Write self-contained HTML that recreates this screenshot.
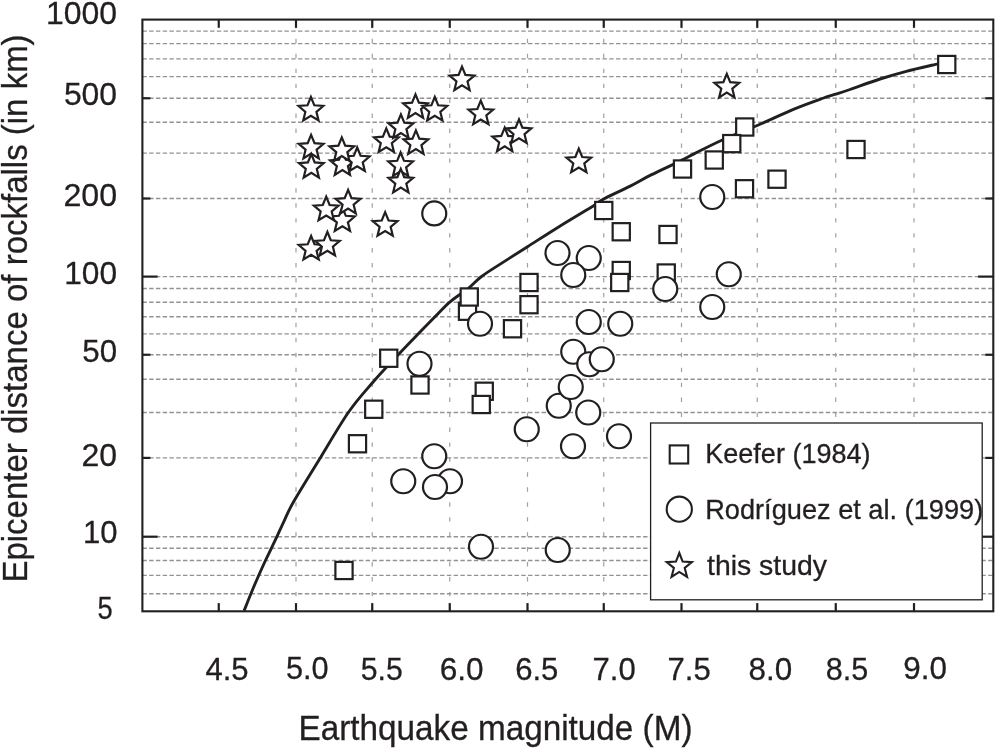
<!DOCTYPE html>
<html><head><meta charset="utf-8"><title>Rockfall distance vs magnitude</title>
<style>html,body{margin:0;padding:0;background:#fff}svg{display:block}</style></head>
<body>
<svg width="995" height="748" viewBox="0 0 995 748">
<rect width="995" height="748" fill="#fff"/>
<g stroke="#929292" stroke-width="1.4" stroke-dasharray="4.4 2.366" fill="none">
<line x1="142.4" y1="31.1" x2="993.3" y2="31.1"/>
<line x1="142.4" y1="43.6" x2="993.3" y2="43.6"/>
<line x1="142.4" y1="58.9" x2="993.3" y2="58.9"/>
<line x1="142.4" y1="76.6" x2="993.3" y2="76.6"/>
<line x1="142.4" y1="98.25" x2="993.3" y2="98.25"/>
<line x1="142.4" y1="122.25" x2="993.3" y2="122.25"/>
<line x1="142.4" y1="153.1" x2="993.3" y2="153.1"/>
<line x1="142.4" y1="198.5" x2="993.3" y2="198.5"/>
<line x1="142.4" y1="276.6" x2="993.3" y2="276.6"/>
<line x1="142.4" y1="288.5" x2="993.3" y2="288.5"/>
<line x1="142.4" y1="302.2" x2="993.3" y2="302.2"/>
<line x1="142.4" y1="316.7" x2="993.3" y2="316.7"/>
<line x1="142.4" y1="333.9" x2="993.3" y2="333.9"/>
<line x1="142.4" y1="354.75" x2="993.3" y2="354.75"/>
<line x1="142.4" y1="379.2" x2="993.3" y2="379.2"/>
<line x1="142.4" y1="412.5" x2="993.3" y2="412.5"/>
<line x1="142.4" y1="457.9" x2="993.3" y2="457.9"/>
<line x1="142.4" y1="536.7" x2="993.3" y2="536.7"/>
<line x1="142.4" y1="548.3" x2="993.3" y2="548.3"/>
<line x1="142.4" y1="560.5" x2="993.3" y2="560.5"/>
<line x1="142.4" y1="575.4" x2="993.3" y2="575.4"/>
<line x1="142.4" y1="593.7" x2="993.3" y2="593.7"/>
</g>
<g stroke="#a0a0a0" stroke-width="1.2" stroke-dasharray="4.4 10.55" fill="none">
<line x1="296" y1="611.3" x2="296" y2="19.6"/>
<line x1="372.25" y1="611.3" x2="372.25" y2="19.6"/>
<line x1="449.75" y1="611.3" x2="449.75" y2="19.6"/>
<line x1="527.5" y1="611.3" x2="527.5" y2="19.6"/>
<line x1="603.75" y1="611.3" x2="603.75" y2="19.6"/>
<line x1="681.5" y1="611.3" x2="681.5" y2="19.6"/>
<line x1="757.25" y1="611.3" x2="757.25" y2="19.6"/>
<line x1="835.75" y1="611.3" x2="835.75" y2="19.6"/>
<line x1="914.0" y1="611.3" x2="914.0" y2="19.6"/>
</g>
<g stroke="#231f20" stroke-width="2.2" fill="none">
<line x1="218.75" y1="19.6" x2="218.75" y2="27.8"/>
<line x1="218.75" y1="611.3" x2="218.75" y2="603.0999999999999"/>
<line x1="296" y1="19.6" x2="296" y2="27.8"/>
<line x1="296" y1="611.3" x2="296" y2="603.0999999999999"/>
<line x1="372.25" y1="19.6" x2="372.25" y2="27.8"/>
<line x1="372.25" y1="611.3" x2="372.25" y2="603.0999999999999"/>
<line x1="449.75" y1="19.6" x2="449.75" y2="27.8"/>
<line x1="449.75" y1="611.3" x2="449.75" y2="603.0999999999999"/>
<line x1="527.5" y1="19.6" x2="527.5" y2="27.8"/>
<line x1="527.5" y1="611.3" x2="527.5" y2="603.0999999999999"/>
<line x1="603.75" y1="19.6" x2="603.75" y2="27.8"/>
<line x1="603.75" y1="611.3" x2="603.75" y2="603.0999999999999"/>
<line x1="681.5" y1="19.6" x2="681.5" y2="27.8"/>
<line x1="681.5" y1="611.3" x2="681.5" y2="603.0999999999999"/>
<line x1="757.25" y1="19.6" x2="757.25" y2="27.8"/>
<line x1="757.25" y1="611.3" x2="757.25" y2="603.0999999999999"/>
<line x1="835.75" y1="19.6" x2="835.75" y2="27.8"/>
<line x1="835.75" y1="611.3" x2="835.75" y2="603.0999999999999"/>
<line x1="914.0" y1="19.6" x2="914.0" y2="27.8"/>
<line x1="914.0" y1="611.3" x2="914.0" y2="603.0999999999999"/>
<line x1="142.4" y1="98.25" x2="150.4" y2="98.25"/>
<line x1="993.3" y1="98.25" x2="985.3" y2="98.25"/>
<line x1="142.4" y1="198.5" x2="150.4" y2="198.5"/>
<line x1="993.3" y1="198.5" x2="985.3" y2="198.5"/>
<line x1="142.4" y1="276.6" x2="157.6" y2="276.6"/>
<line x1="993.3" y1="276.6" x2="978.0999999999999" y2="276.6"/>
<line x1="142.4" y1="354.75" x2="150.4" y2="354.75"/>
<line x1="993.3" y1="354.75" x2="985.3" y2="354.75"/>
<line x1="142.4" y1="457.9" x2="150.4" y2="457.9"/>
<line x1="993.3" y1="457.9" x2="985.3" y2="457.9"/>
<line x1="142.4" y1="536.7" x2="157.6" y2="536.7"/>
<line x1="993.3" y1="536.7" x2="978.0999999999999" y2="536.7"/>
</g>
<path d="M244.10 610.80 C245.23 607.95 248.43 599.67 250.90 593.70 C253.37 587.73 256.43 580.62 258.90 575.00 C261.37 569.38 263.60 564.50 265.70 560.00 C267.80 555.50 269.63 551.88 271.50 548.00 C273.37 544.12 274.77 541.28 276.90 536.70 C279.03 532.12 281.52 526.32 284.30 520.50 C287.08 514.68 287.82 511.88 293.60 501.80 C299.38 491.72 309.88 474.88 319.00 460.00 C328.12 445.12 339.43 425.33 348.30 412.50 C357.18 399.67 363.93 392.63 372.25 383.00 C380.57 373.37 390.52 362.90 398.20 354.70 C405.88 346.50 412.13 340.15 418.30 333.80 C424.47 327.45 429.96 321.88 435.20 316.60 C440.44 311.32 444.22 306.82 449.75 302.10 C455.28 297.38 463.16 292.53 468.40 288.30 C473.64 284.07 475.90 280.78 481.20 276.75 C486.50 272.72 492.48 269.11 500.20 264.10 C507.92 259.09 517.50 253.07 527.50 246.70 C537.50 240.33 549.05 232.82 560.20 225.90 C571.35 218.98 587.14 209.68 594.40 205.20 C601.66 200.72 597.78 202.18 603.75 199.00 C609.72 195.82 622.31 190.12 630.20 186.10 C638.09 182.08 642.55 179.18 651.10 174.90 C659.65 170.62 674.27 163.95 681.50 160.40 C688.73 156.85 687.78 156.97 694.50 153.60 C701.22 150.23 711.34 144.88 721.80 140.20 C732.26 135.52 745.22 130.68 757.25 125.50 C769.28 120.32 783.06 113.64 794.00 109.10 C804.94 104.56 815.94 100.73 822.90 98.25 C829.86 95.77 831.23 95.66 835.75 94.20 C840.27 92.74 842.62 92.03 850.00 89.50 C857.38 86.97 870.62 82.03 880.00 79.00 C889.38 75.97 896.65 73.83 906.30 71.30 C915.95 68.77 932.63 65.05 937.90 63.80" fill="none" stroke="#231f20" stroke-width="2.9" stroke-linecap="butt" stroke-linejoin="round"/>
<g fill="#fff" stroke="#231f20" stroke-width="2.2">
<rect x="938.15" y="55.90" width="17.2" height="17.2"/>
<rect x="847.40" y="140.90" width="17.2" height="17.2"/>
<rect x="736.15" y="118.40" width="17.2" height="17.2"/>
<rect x="768.40" y="170.60" width="17.2" height="17.2"/>
<rect x="673.90" y="160.40" width="17.2" height="17.2"/>
<rect x="705.65" y="151.40" width="17.2" height="17.2"/>
<rect x="723.15" y="135.00" width="17.2" height="17.2"/>
<rect x="735.90" y="180.15" width="17.2" height="17.2"/>
<rect x="595.15" y="201.90" width="17.2" height="17.2"/>
<rect x="612.65" y="223.15" width="17.2" height="17.2"/>
<rect x="659.40" y="225.90" width="17.2" height="17.2"/>
<rect x="612.65" y="261.90" width="17.2" height="17.2"/>
<rect x="611.15" y="273.90" width="17.2" height="17.2"/>
<rect x="657.65" y="264.40" width="17.2" height="17.2"/>
<rect x="520.40" y="273.90" width="17.2" height="17.2"/>
<rect x="520.40" y="296.10" width="17.2" height="17.2"/>
<rect x="503.90" y="320.15" width="17.2" height="17.2"/>
<rect x="458.90" y="302.65" width="17.2" height="17.2"/>
<rect x="460.65" y="288.40" width="17.2" height="17.2"/>
<rect x="380.15" y="349.65" width="17.2" height="17.2"/>
<rect x="411.40" y="376.40" width="17.2" height="17.2"/>
<rect x="365.15" y="400.65" width="17.2" height="17.2"/>
<rect x="348.90" y="435.15" width="17.2" height="17.2"/>
<rect x="475.65" y="382.65" width="17.2" height="17.2"/>
<rect x="472.65" y="395.90" width="17.2" height="17.2"/>
<rect x="335.40" y="561.90" width="17.2" height="17.2"/>
<circle cx="434.25" cy="213.4" r="12"/>
<circle cx="712.25" cy="197" r="12"/>
<circle cx="557.5" cy="253" r="12"/>
<circle cx="588.75" cy="258" r="12"/>
<circle cx="573.25" cy="275" r="12"/>
<circle cx="728.75" cy="274.25" r="12"/>
<circle cx="665.25" cy="289" r="12"/>
<circle cx="712.25" cy="307" r="12"/>
<circle cx="588.75" cy="322" r="12"/>
<circle cx="620.25" cy="323.75" r="12"/>
<circle cx="573.25" cy="351.75" r="12"/>
<circle cx="589.25" cy="364.25" r="12"/>
<circle cx="601.75" cy="359.25" r="12"/>
<circle cx="558.75" cy="405.75" r="12"/>
<circle cx="570.75" cy="387" r="12"/>
<circle cx="588.25" cy="412.5" r="12"/>
<circle cx="526.75" cy="429.25" r="12"/>
<circle cx="619" cy="436.25" r="12"/>
<circle cx="573" cy="446.25" r="12"/>
<circle cx="480" cy="323.75" r="12"/>
<circle cx="419.5" cy="363.75" r="12"/>
<circle cx="434.25" cy="456.25" r="12"/>
<circle cx="403.25" cy="481.25" r="12"/>
<circle cx="450" cy="481.25" r="12"/>
<circle cx="435" cy="487" r="12"/>
<circle cx="481" cy="546.75" r="12"/>
<circle cx="557.75" cy="550" r="12"/>
</g>
<g fill="#fff" stroke="#231f20" stroke-width="2.2" stroke-linejoin="miter">
<path d="M310.90 97.00 L314.31 105.31 L323.26 105.98 L316.42 111.79 L318.54 120.52 L310.90 115.80 L303.26 120.52 L305.38 111.79 L298.54 105.98 L307.49 105.31Z"/>
<path d="M311.10 134.80 L314.51 143.11 L323.46 143.78 L316.62 149.59 L318.74 158.32 L311.10 153.60 L303.46 158.32 L305.58 149.59 L298.74 143.78 L307.69 143.11Z"/>
<path d="M311.30 154.10 L314.71 162.41 L323.66 163.08 L316.82 168.89 L318.94 177.62 L311.30 172.90 L303.66 177.62 L305.78 168.89 L298.94 163.08 L307.89 162.41Z"/>
<path d="M342.40 151.30 L345.81 159.61 L354.76 160.28 L347.92 166.09 L350.04 174.82 L342.40 170.10 L334.76 174.82 L336.88 166.09 L330.04 160.28 L338.99 159.61Z"/>
<path d="M357.20 147.50 L360.61 155.81 L369.56 156.48 L362.72 162.29 L364.84 171.02 L357.20 166.30 L349.56 171.02 L351.68 162.29 L344.84 156.48 L353.79 155.81Z"/>
<path d="M341.80 137.30 L345.21 145.61 L354.16 146.28 L347.32 152.09 L349.44 160.82 L341.80 156.10 L334.16 160.82 L336.28 152.09 L329.44 146.28 L338.39 145.61Z"/>
<path d="M386.30 128.40 L389.71 136.71 L398.66 137.38 L391.82 143.19 L393.94 151.92 L386.30 147.20 L378.66 151.92 L380.78 143.19 L373.94 137.38 L382.89 136.71Z"/>
<path d="M400.90 114.30 L404.31 122.61 L413.26 123.28 L406.42 129.09 L408.54 137.82 L400.90 133.10 L393.26 137.82 L395.38 129.09 L388.54 123.28 L397.49 122.61Z"/>
<path d="M415.90 130.30 L419.31 138.61 L428.26 139.28 L421.42 145.09 L423.54 153.82 L415.90 149.10 L408.26 153.82 L410.38 145.09 L403.54 139.28 L412.49 138.61Z"/>
<path d="M415.50 94.30 L418.91 102.61 L427.86 103.28 L421.02 109.09 L423.14 117.82 L415.50 113.10 L407.86 117.82 L409.98 109.09 L403.14 103.28 L412.09 102.61Z"/>
<path d="M434.80 97.00 L438.21 105.31 L447.16 105.98 L440.32 111.79 L442.44 120.52 L434.80 115.80 L427.16 120.52 L429.28 111.79 L422.44 105.98 L431.39 105.31Z"/>
<path d="M400.60 152.50 L404.01 160.81 L412.96 161.48 L406.12 167.29 L408.24 176.02 L400.60 171.30 L392.96 176.02 L395.08 167.29 L388.24 161.48 L397.19 160.81Z"/>
<path d="M400.80 168.80 L404.21 177.11 L413.16 177.78 L406.32 183.59 L408.44 192.32 L400.80 187.60 L393.16 192.32 L395.28 183.59 L388.44 177.78 L397.39 177.11Z"/>
<path d="M462.00 66.60 L465.41 74.91 L474.36 75.58 L467.52 81.39 L469.64 90.12 L462.00 85.40 L454.36 90.12 L456.48 81.39 L449.64 75.58 L458.59 74.91Z"/>
<path d="M480.80 100.70 L484.21 109.01 L493.16 109.68 L486.32 115.49 L488.44 124.22 L480.80 119.50 L473.16 124.22 L475.28 115.49 L468.44 109.68 L477.39 109.01Z"/>
<path d="M504.70 127.60 L508.11 135.91 L517.06 136.58 L510.22 142.39 L512.34 151.12 L504.70 146.40 L497.06 151.12 L499.18 142.39 L492.34 136.58 L501.29 135.91Z"/>
<path d="M519.00 119.40 L522.41 127.71 L531.36 128.38 L524.52 134.19 L526.64 142.92 L519.00 138.20 L511.36 142.92 L513.48 134.19 L506.64 128.38 L515.59 127.71Z"/>
<path d="M578.80 148.70 L582.21 157.01 L591.16 157.68 L584.32 163.49 L586.44 172.22 L578.80 167.50 L571.16 172.22 L573.28 163.49 L566.44 157.68 L575.39 157.01Z"/>
<path d="M726.80 73.80 L730.21 82.11 L739.16 82.78 L732.32 88.59 L734.44 97.32 L726.80 92.60 L719.16 97.32 L721.28 88.59 L714.44 82.78 L723.39 82.11Z"/>
<path d="M342.40 207.50 L345.81 215.81 L354.76 216.48 L347.92 222.29 L350.04 231.02 L342.40 226.30 L334.76 231.02 L336.88 222.29 L330.04 216.48 L338.99 215.81Z"/>
<path d="M326.20 196.70 L329.61 205.01 L338.56 205.68 L331.72 211.49 L333.84 220.22 L326.20 215.50 L318.56 220.22 L320.68 211.49 L313.84 205.68 L322.79 205.01Z"/>
<path d="M348.10 189.80 L351.51 198.11 L360.46 198.78 L353.62 204.59 L355.74 213.32 L348.10 208.60 L340.46 213.32 L342.58 204.59 L335.74 198.78 L344.69 198.11Z"/>
<path d="M385.15 212.20 L388.56 220.51 L397.51 221.18 L390.67 226.99 L392.79 235.72 L385.15 231.00 L377.51 235.72 L379.63 226.99 L372.79 221.18 L381.74 220.51Z"/>
<path d="M311.10 236.00 L314.51 244.31 L323.46 244.98 L316.62 250.79 L318.74 259.52 L311.10 254.80 L303.46 259.52 L305.58 250.79 L298.74 244.98 L307.69 244.31Z"/>
<path d="M327.40 231.95 L330.81 240.26 L339.76 240.93 L332.92 246.74 L335.04 255.47 L327.40 250.75 L319.76 255.47 L321.88 246.74 L315.04 240.93 L323.99 240.26Z"/>
</g>
<rect x="650.6" y="423" width="331.6" height="176.8" fill="#fff" stroke="#231f20" stroke-width="1.3"/>
<rect x="669.7" y="445.4" width="18.5" height="18.1" fill="#fff" stroke="#231f20" stroke-width="2.1"/>
<circle cx="679.3" cy="509.2" r="12.6" fill="#fff" stroke="#231f20" stroke-width="2.1"/>
<path d="M679.30 553.00 L682.65 561.59 L691.85 562.12 L684.72 567.96 L687.06 576.88 L679.30 571.90 L671.54 576.88 L673.88 567.96 L666.75 562.12 L675.95 561.59Z" fill="#fff" stroke="#231f20" stroke-width="2.1"/>
<rect x="142.4" y="19.6" width="850.9" height="591.6999999999999" fill="none" stroke="#231f20" stroke-width="2.1"/>
<text x="205.39999999999998" y="680.1" font-size="32.2" font-family="Liberation Sans, Arial, sans-serif" fill="#231f20" stroke="#231f20" stroke-width="0.3" text-anchor="start" textLength="43.200000000000024" lengthAdjust="spacingAndGlyphs" >4.5</text>
<text x="285.9" y="678.7" font-size="32.2" font-family="Liberation Sans, Arial, sans-serif" fill="#231f20" stroke="#231f20" stroke-width="0.3" text-anchor="start" textLength="42.700000000000024" lengthAdjust="spacingAndGlyphs" >5.0</text>
<text x="360.7" y="680.4" font-size="32.2" font-family="Liberation Sans, Arial, sans-serif" fill="#231f20" stroke="#231f20" stroke-width="0.3" text-anchor="start" textLength="41.99999999999998" lengthAdjust="spacingAndGlyphs" >5.5</text>
<text x="439.7" y="680.1" font-size="32.2" font-family="Liberation Sans, Arial, sans-serif" fill="#231f20" stroke="#231f20" stroke-width="0.3" text-anchor="start" textLength="43.90000000000001" lengthAdjust="spacingAndGlyphs" >6.0</text>
<text x="515.2" y="680.1" font-size="32.2" font-family="Liberation Sans, Arial, sans-serif" fill="#231f20" stroke="#231f20" stroke-width="0.3" text-anchor="start" textLength="43.200000000000024" lengthAdjust="spacingAndGlyphs" >6.5</text>
<text x="592.5" y="680.1" font-size="32.2" font-family="Liberation Sans, Arial, sans-serif" fill="#231f20" stroke="#231f20" stroke-width="0.3" text-anchor="start" textLength="43.200000000000024" lengthAdjust="spacingAndGlyphs" >7.0</text>
<text x="667.5" y="680.4" font-size="32.2" font-family="Liberation Sans, Arial, sans-serif" fill="#231f20" stroke="#231f20" stroke-width="0.3" text-anchor="start" textLength="43.200000000000024" lengthAdjust="spacingAndGlyphs" >7.5</text>
<text x="748.5" y="680.4" font-size="32.2" font-family="Liberation Sans, Arial, sans-serif" fill="#231f20" stroke="#231f20" stroke-width="0.3" text-anchor="start" textLength="43.700000000000024" lengthAdjust="spacingAndGlyphs" >8.0</text>
<text x="825.7" y="680.4" font-size="32.2" font-family="Liberation Sans, Arial, sans-serif" fill="#231f20" stroke="#231f20" stroke-width="0.3" text-anchor="start" textLength="42.49999999999998" lengthAdjust="spacingAndGlyphs" >8.5</text>
<text x="903.3000000000001" y="678.9" font-size="32.2" font-family="Liberation Sans, Arial, sans-serif" fill="#231f20" stroke="#231f20" stroke-width="0.3" text-anchor="start" textLength="43.700000000000024" lengthAdjust="spacingAndGlyphs" >9.0</text>
<text x="46.0" y="23.9" font-size="32.2" font-family="Liberation Sans, Arial, sans-serif" fill="#231f20" stroke="#231f20" stroke-width="0.3" text-anchor="start" textLength="71.1" lengthAdjust="spacingAndGlyphs" >1000</text>
<text x="63.900000000000006" y="105.4" font-size="32.2" font-family="Liberation Sans, Arial, sans-serif" fill="#231f20" stroke="#231f20" stroke-width="0.3" text-anchor="start" textLength="53.199999999999996" lengthAdjust="spacingAndGlyphs" >500</text>
<text x="63.400000000000006" y="205.9" font-size="32.2" font-family="Liberation Sans, Arial, sans-serif" fill="#231f20" stroke="#231f20" stroke-width="0.3" text-anchor="start" textLength="53.699999999999996" lengthAdjust="spacingAndGlyphs" >200</text>
<text x="64.2" y="283.5" font-size="32.2" font-family="Liberation Sans, Arial, sans-serif" fill="#231f20" stroke="#231f20" stroke-width="0.3" text-anchor="start" textLength="52.9" lengthAdjust="spacingAndGlyphs" >100</text>
<text x="82.3" y="361.8" font-size="32.2" font-family="Liberation Sans, Arial, sans-serif" fill="#231f20" stroke="#231f20" stroke-width="0.3" text-anchor="start" textLength="34.800000000000004" lengthAdjust="spacingAndGlyphs" >50</text>
<text x="81.5" y="465.7" font-size="32.2" font-family="Liberation Sans, Arial, sans-serif" fill="#231f20" stroke="#231f20" stroke-width="0.3" text-anchor="start" textLength="35.6" lengthAdjust="spacingAndGlyphs" >20</text>
<text x="83.0" y="543.2" font-size="32.2" font-family="Liberation Sans, Arial, sans-serif" fill="#231f20" stroke="#231f20" stroke-width="0.3" text-anchor="start" textLength="34.6" lengthAdjust="spacingAndGlyphs" >10</text>
<text x="97.4" y="619.1" font-size="32.2" font-family="Liberation Sans, Arial, sans-serif" fill="#231f20" stroke="#231f20" stroke-width="0.3" text-anchor="start" textLength="15.199999999999994" lengthAdjust="spacingAndGlyphs" >5</text>
<text x="298.5" y="740.1" font-size="34.4" font-family="Liberation Sans, Arial, sans-serif" fill="#231f20" stroke="#231f20" stroke-width="0.3" text-anchor="start" textLength="394" lengthAdjust="spacingAndGlyphs" >Earthquake magnitude (M)</text>
<g transform="translate(26.6 582.6) rotate(-90)"><text x="0" y="0" font-size="34.4" font-family="Liberation Sans, Arial, sans-serif" fill="#231f20" stroke="#231f20" stroke-width="0.3" text-anchor="start" textLength="548.2" lengthAdjust="spacingAndGlyphs" >Epicenter distance of rockfalls (in km)</text></g>
<text x="705.3" y="462.7" font-size="27.6" font-family="Liberation Sans, Arial, sans-serif" fill="#231f20" stroke="#231f20" stroke-width="0.3" text-anchor="start" textLength="165.2" lengthAdjust="spacingAndGlyphs" >Keefer (1984)</text>
<text x="705.2" y="519.3" font-size="27.6" font-family="Liberation Sans, Arial, sans-serif" fill="#231f20" stroke="#231f20" stroke-width="0.3" text-anchor="start" textLength="278" lengthAdjust="spacingAndGlyphs" >Rodríguez et al. (1999)</text>
<text x="707" y="574.7" font-size="27.6" font-family="Liberation Sans, Arial, sans-serif" fill="#231f20" stroke="#231f20" stroke-width="0.3" text-anchor="start" textLength="120" lengthAdjust="spacingAndGlyphs" >this study</text>
</svg>
</body></html>
